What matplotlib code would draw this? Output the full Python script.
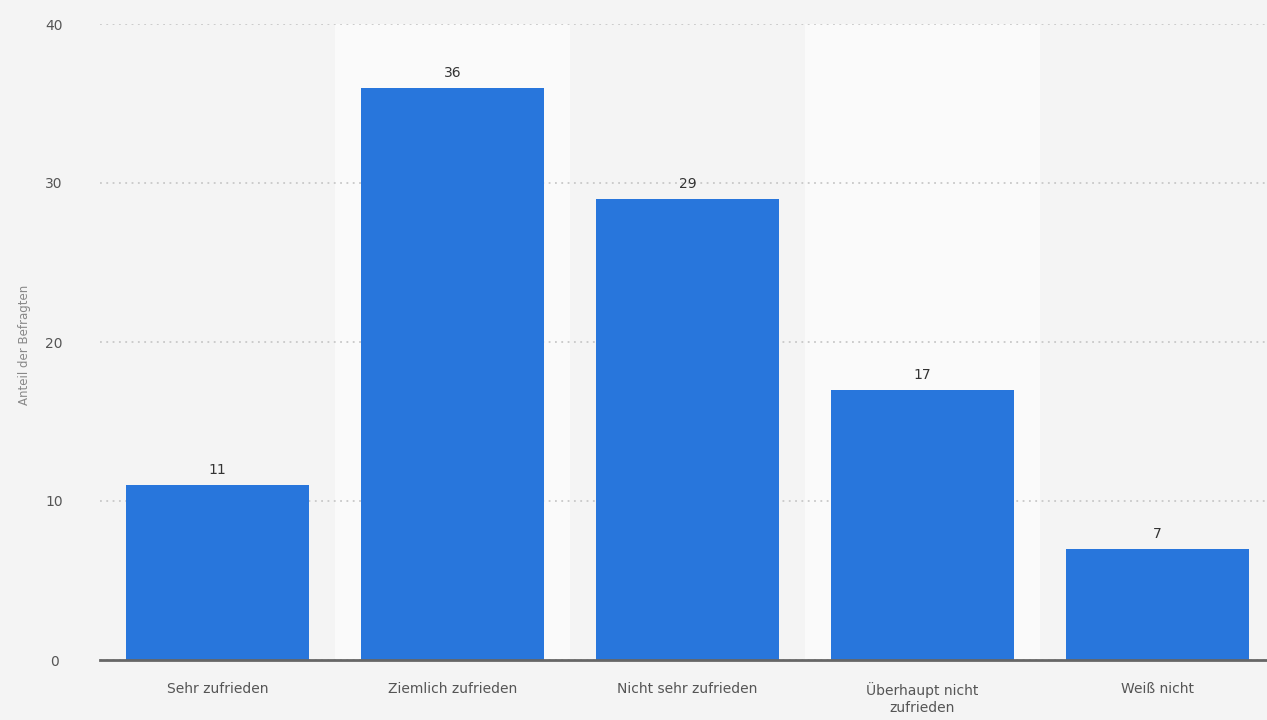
import numpy as np
import matplotlib.pyplot as plt

# Umfrage: Zufriedenheit
categories = ["Sehr zufrieden", "Ziemlich zufrieden", "Nicht sehr zufrieden",
              "Überhaupt nicht\nzufrieden", "Weiß nicht"]
values = [11, 36, 29, 17, 7]
yticks = [0, 10, 20, 30, 40]

bg = "#f4f4f4"
bar_color = "#2876dc"

fig = plt.figure(figsize=(12.67, 7.2), dpi=100, facecolor=bg)
ax = fig.add_axes([100 / 1267, 60 / 720, 1167 / 1267, 636 / 720])
ax.set_facecolor(bg)

x = np.arange(len(categories))

# alternating light column bands
for i in x:
    if i % 2 == 1:
        ax.axvspan(i - 0.5, i + 0.5, color="#fafafa", zorder=0, lw=0)

ax.bar(x, values, width=0.775, color=bar_color, zorder=3)

for xi, v in zip(x, values):
    ax.text(xi, v + 0.5, str(v), ha="center", va="bottom",
            fontsize=10, color="#333333", zorder=4)

ax.set_xlim(-0.5, 4.466)
ax.set_ylim(0, 40)
ax.set_yticks(yticks)
ax.set_xticks(x)
ax.set_xticklabels(categories, fontsize=10, color="#555555", linespacing=1.3)
ax.tick_params(axis="y", length=0, pad=33, labelsize=10, labelcolor="#555555")
for lbl in ax.get_yticklabels():
    lbl.set_horizontalalignment("center")
ax.tick_params(axis="x", length=0, pad=16)

ax.grid(axis="y", linestyle=(0, (1, 2.5)), color="#c8c8c8", linewidth=1.3, zorder=1)
for side in ["top", "right", "left"]:
    ax.spines[side].set_visible(False)
ax.spines["bottom"].set_color("#666666")
ax.spines["bottom"].set_linewidth(2)
ax.spines["bottom"].set_zorder(5)

fig.text(25 / 1267, 1 - 345 / 720, "Anteil der Befragten", rotation=90,
         ha="center", va="center", fontsize=8.5, color="#888888")

fig.savefig("out.png", dpi=100, facecolor=bg)
